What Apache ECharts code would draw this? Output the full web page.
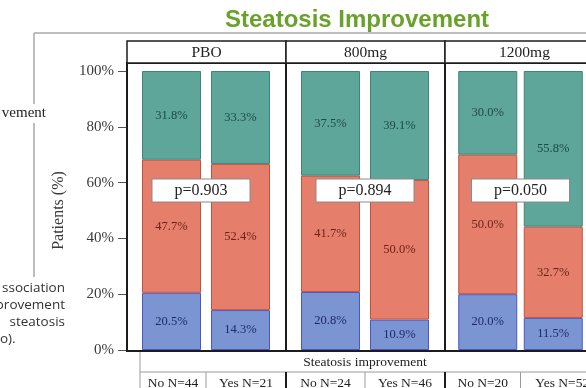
<!DOCTYPE html>
<html>
<head>
<meta charset="utf-8">
<script src="https://cdn.jsdelivr.net/npm/echarts@6/dist/echarts.min.js"></script>
<style>
  html, body { margin: 0; padding: 0; background: #fff; }
  #chart { width: 586px; height: 388px; }
</style>
</head>
<body>
<div id="chart"></div>
<script>
// Dose panels and the two groups inside each panel
const doses = ['PBO', '800mg', '1200mg'];
const groupLabels = [
  ['No N=44', 'Yes N=21'],
  ['No N=24', 'Yes N=46'],
  ['No N=20', 'Yes N=52']
];
// Share of patients (%) per stacked segment, bottom to top
const bottomShare = [[20.5, 14.3], [20.8, 10.9], [20.0, 11.5]];
const middleShare = [[47.7, 52.4], [41.7, 50.0], [50.0, 32.7]];
const topShare = [[31.8, 33.3], [37.5, 39.1], [30.0, 55.8]];
const pValues = ['p=0.903', 'p=0.894', 'p=0.050'];
const yTickStep = 20;
const tableTitle = 'Steatosis improvement';
const pageTitle = 'Steatosis Improvement';
const sideTextTop = 'vement';
const sideTextLines = ['ssociation', 'provement', 'steatosis'];
const sideTextLast = 'o).';

const SERIF = '"Liberation Serif", "DejaVu Serif", serif';
const SANS = '"Open Sans", "Liberation Sans", sans-serif';

// Panel layout
const PANEL_X0 = 127, PANEL_W = 159, PANEL_TOP = 63, PANEL_BOTTOM = 351;
const HEADER_TOP = 41;
const PLOT_TOP = 71, PLOT_H = 279, INSET = 10;

const levels = [
  { name: 'Level 1', data: bottomShare, fill: '#7b95d3', stroke: '#4b55c8', label: '#1f2a6a' },
  { name: 'Level 2', data: middleShare, fill: '#e57f6c', stroke: '#c4513e', label: '#6e2216' },
  { name: 'Level 3', data: topShare, fill: '#5fa69a', stroke: '#3f8479', label: '#1b4a44' }
];

const chart = echarts.init(document.getElementById('chart'), null, { renderer: 'canvas' });

const grids = [], xAxes = [], yAxes = [], series = [];
doses.forEach((dose, i) => {
  grids.push({
    left: PANEL_X0 + PANEL_W * i + INSET,
    top: PLOT_TOP,
    width: PANEL_W - 2 * INSET - 1,
    height: PLOT_H,
    containLabel: false
  });
  xAxes.push({
    type: 'category',
    gridIndex: i,
    data: groupLabels[i],
    axisLine: { show: false },
    axisTick: { show: false },
    axisLabel: { show: false }
  });
  yAxes.push({
    type: 'value',
    gridIndex: i,
    min: 0,
    max: 100,
    interval: yTickStep,
    show: i === 0,
    offset: INSET,
    name: i === 0 ? 'Patients (%)' : '',
    nameLocation: 'middle',
    nameGap: 60,
    nameTextStyle: { fontFamily: SERIF, fontSize: 16, color: '#3a3a3a' },
    axisLine: { show: false },
    axisTick: { show: true, length: 9, lineStyle: { color: '#555', width: 1 } },
    axisLabel: { formatter: '{value}%', fontFamily: SERIF, fontSize: 15, color: '#3a3a3a', margin: 13 },
    splitLine: { show: false }
  });
  levels.forEach((lv) => {
    series.push({
      type: 'bar',
      name: lv.name,
      xAxisIndex: i,
      yAxisIndex: i,
      stack: 'panel' + i,
      barWidth: 59,
      data: lv.data[i],
      itemStyle: { color: lv.fill, borderColor: lv.stroke, borderWidth: 1 },
      label: {
        show: true,
        position: 'inside',
        formatter: (p) => p.value.toFixed(1) + '%',
        fontFamily: SERIF,
        fontSize: 12.5,
        color: lv.label
      },
      emphasis: { disabled: true },
      animation: false
    });
  });
});

chart.setOption({
  animation: false,
  backgroundColor: '#ffffff',
  grid: grids,
  xAxis: xAxes,
  yAxis: yAxes,
  series: series
});

// Frames, strip headers, p-value boxes and the group table under the panels
const g = [];
const LINE_GRAY = '#9a9a9a';
const TABLE_LEFT = 140, TABLE_RIGHT = PANEL_X0 + PANEL_W * 3;
const ROW1_BOTTOM = 372, ROW2_BOTTOM = 392;

// outer slide box lines and side text
g.push({ type: 'line', shape: { x1: 34, y1: 33, x2: 586, y2: 33 }, style: { stroke: '#a8a8a8', lineWidth: 1.5 } });
g.push({ type: 'line', shape: { x1: 34, y1: 33, x2: 34, y2: 104 }, style: { stroke: '#a8a8a8', lineWidth: 1.5 } });
g.push({ type: 'line', shape: { x1: 34, y1: 123, x2: 34, y2: 277 }, style: { stroke: '#a8a8a8', lineWidth: 1.5 } });
g.push({ type: 'text', style: { text: sideTextTop, x: 46, y: 113, textAlign: 'right', textVerticalAlign: 'middle', font: '15px ' + SERIF, fill: '#222' } });
sideTextLines.forEach((t, k) => {
  g.push({ type: 'text', style: { text: t, x: 65, y: 288 + 17 * k, textAlign: 'right', textVerticalAlign: 'middle', font: '13.5px ' + SANS, fill: '#333' } });
});
g.push({ type: 'text', style: { text: sideTextLast, x: 0, y: 339, textAlign: 'left', textVerticalAlign: 'middle', font: '13.5px ' + SANS, fill: '#333' } });

// page title
g.push({ type: 'text', style: { text: pageTitle, x: 357, y: 20, textAlign: 'center', textVerticalAlign: 'middle', font: 'bold 24px "Liberation Sans", Arial, sans-serif', fill: '#6aa12b' } });

// table rows under the panels
g.push({ type: 'line', shape: { x1: TABLE_LEFT, y1: PANEL_BOTTOM, x2: TABLE_LEFT, y2: ROW2_BOTTOM }, style: { stroke: LINE_GRAY, lineWidth: 1 } });
g.push({ type: 'line', shape: { x1: TABLE_LEFT, y1: ROW1_BOTTOM, x2: TABLE_RIGHT, y2: ROW1_BOTTOM }, style: { stroke: LINE_GRAY, lineWidth: 1 } });
g.push({ type: 'text', style: { text: tableTitle, x: 365, y: 362, textAlign: 'center', textVerticalAlign: 'middle', font: '13.5px ' + SERIF, fill: '#222' } });

doses.forEach((dose, i) => {
  const px = PANEL_X0 + PANEL_W * i;
  // panel frame
  g.push({ type: 'rect', z: 50, shape: { x: px, y: PANEL_TOP, width: PANEL_W, height: PANEL_BOTTOM - PANEL_TOP }, style: { fill: 'none', stroke: '#1c1c1c', lineWidth: 2 } });
  // strip header
  g.push({ type: 'rect', z: 50, shape: { x: px, y: HEADER_TOP, width: PANEL_W, height: PANEL_TOP - HEADER_TOP }, style: { fill: '#fff', stroke: '#1c1c1c', lineWidth: 1.5 } });
  g.push({ type: 'text', z: 51, style: { text: dose, x: px + PANEL_W / 2, y: (HEADER_TOP + PANEL_TOP) / 2 + 1, textAlign: 'center', textVerticalAlign: 'middle', font: '15.5px ' + SERIF, fill: '#222' } });

  const c0 = chart.convertToPixel({ xAxisIndex: i }, groupLabels[i][0]);
  const c1 = chart.convertToPixel({ xAxisIndex: i }, groupLabels[i][1]);
  const mid = (c0 + c1) / 2;
  const yBox = chart.convertToPixel({ yAxisIndex: i }, 57.2);

  // p-value box
  g.push({ type: 'text', z: 60, style: {
    text: pValues[i], x: mid - (i === 0 ? 5 : 0), y: yBox, textAlign: 'center', textVerticalAlign: 'middle',
    font: '16px ' + SERIF, fill: '#222', backgroundColor: '#fff', borderColor: '#8a8a8a', borderWidth: 1, padding: [3, 22, 3, 22]
  } });

  // group label cells
  const left = i === 0 ? TABLE_LEFT : px;
  const right = px + PANEL_W;
  g.push({ type: 'line', shape: { x1: mid, y1: ROW1_BOTTOM, x2: mid, y2: ROW2_BOTTOM }, style: { stroke: LINE_GRAY, lineWidth: 1 } });
  if (i > 0) {
    g.push({ type: 'line', z: 50, shape: { x1: px, y1: ROW1_BOTTOM, x2: px, y2: ROW2_BOTTOM }, style: { stroke: '#1c1c1c', lineWidth: 2 } });
  }
  [[left, mid], [mid, right]].forEach((cell, k) => {
    g.push({ type: 'text', style: { text: groupLabels[i][k], x: (cell[0] + cell[1]) / 2, y: 383, textAlign: 'center', textVerticalAlign: 'middle', font: '13.5px ' + SERIF, fill: '#222' } });
  });
});

chart.setOption({ graphic: g });
</script>
</body>
</html>
